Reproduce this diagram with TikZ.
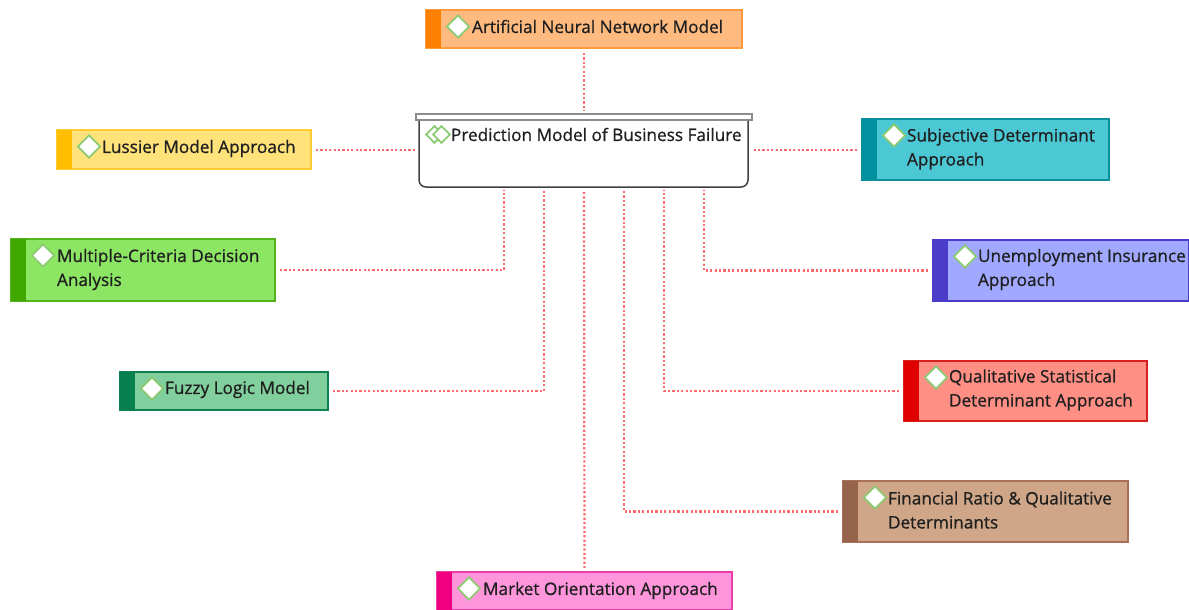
\documentclass[tikz,border=0pt]{standalone}
\usepackage{fontspec}
\setmainfont[FakeBold=0.8]{Open Sans}
\usetikzlibrary{shapes.geometric}
\newcommand{\elembox}[8]{%
  % name, x1, y1, x2, y2, fill, dark, border
  \definecolor{cf#1}{HTML}{#6}\definecolor{cd#1}{HTML}{#7}\definecolor{cb#1}{HTML}{#8}%
  \node[boxbody,draw=cb#1,fill=cf#1,minimum width=#4pt-#2pt,minimum height=#5pt-#3pt] (#1) at ({(#2+#4)/2},{(#3+#5)/2}) {};
  \node[bandbar,fill=cd#1,minimum height=#5pt-#3pt] (#1band) at ({#2+7.5},{(#3+#5)/2}) {};
  \node[gem] (#1gem) at ({#2+32},{#3+16.5}) {};
}
\definecolor{link}{HTML}{FF6A6E}
\definecolor{gemgreen}{HTML}{8CCB72}
\tikzset{
  boxbody/.style={rectangle,line width=1.3pt,inner sep=0pt,outer sep=0pt},
  bandbar/.style={rectangle,minimum width=15pt,inner sep=0pt,outer sep=0pt},
  gem/.style={diamond,draw=gemgreen,line width=1.7pt,fill=white,minimum width=23pt,minimum height=23pt,inner sep=0pt},
  label/.style={anchor=west,inner sep=0pt,outer sep=0pt,font=\fontsize{17.2pt}{24pt}\selectfont,text=black!88,align=left},
  rel/.style={draw=link,line width=2.2pt,dash pattern=on 2.2pt off 2.2pt,shorten <=5pt,shorten >=3pt},
}
\begin{document}
\begin{tikzpicture}[x=1pt,y=-1pt]
\useasboundingbox (0,0) rectangle (1189,610);
\elembox{ann}{426}{10}{742}{48}{FFBA80}{FF7F00}{FF9A3C}
\elembox{lus}{57}{130}{311}{169}{FFE27A}{FFBF00}{FFCB33}
\elembox{mcd}{11}{239}{275}{301}{8CE664}{3FA800}{55B31A}
\elembox{fuz}{120}{372}{328}{410}{80CF9C}{078050}{0F8050}
\elembox{sub}{862}{119}{1109}{180}{4CC8D4}{00919E}{0A8F9C}
\elembox{une}{933}{240}{1189}{301}{A0A8FF}{4A3BC8}{4A3BC8}
\elembox{qua}{904}{361}{1147}{421}{FF8F85}{E00000}{D92020}
\elembox{fin}{843}{481}{1128}{542}{CFA687}{96644B}{A87058}
\elembox{mar}{437}{572}{732}{610}{FF96DC}{F00080}{E93CA6}
\node[label] (annt) at (472,26.5) {Artificial Neural Network Model};
\node[label] (lust) at (102,148.5) {Lussier Model Approach};
\node[label] (mcdt) at (57,269.5) {Multiple-Criteria Decision\\Analysis};
\node[label] (fuzt) at (165,389.5) {Fuzzy Logic Model};
\node[label] (subt) at (907,149) {Subjective Determinant\\Approach};
\node[label] (unet) at (978,269.5) {Unemployment Insurance\\Approach};
\node[label] (quat) at (949,390) {Qualitative Statistical\\Determinant Approach};
\node[label] (fint) at (888,510) {Financial Ratio \& Qualitative\\Determinants};
\node[label] (mart) at (483,590.5) {Market Orientation Approach};
% centre element
\node[rectangle,minimum width=329pt,minimum height=67pt,inner sep=0pt,outer sep=0pt] (pm) at (583.5,153.5) {};
\draw[draw=black!75,line width=1.5pt,rounded corners=7pt] (pm.north west) -- (pm.south west) -- (pm.south east) -- (pm.north east);
\node[rectangle,draw=black!45,line width=1.2pt,fill=white,minimum width=336pt,minimum height=6pt,inner sep=0pt] (pmtop) at (584,117) {};
\node[gem,minimum width=17.5pt,minimum height=17.5pt] (pmgema) at (434.5,134.5) {};
\node[gem,minimum width=17.5pt,minimum height=17.5pt] (pmgemb) at (441.5,134.5) {};
\node[label] (pmt) at (451,134.5) {Prediction Model of Business Failure};
% anchor points on the centre element
\coordinate (p1) at (504,187);
\coordinate (p2) at (544,187);
\coordinate (p3) at (584,187);
\coordinate (p4) at (624,187);
\coordinate (p5) at (664,187);
\coordinate (p6) at (704,187);
\coordinate (pl) at (418,150);
\coordinate (pr) at (749,150);
% connectors
\draw[rel] (ann.south) -- (pmtop.north);
\draw[rel] (lus.east |- pl) -- (pl);
\draw[rel] (sub.west |- pr) -- (pr);
\draw[rel] (mcd.east) -| (p1);
\draw[rel] (fuz.east) -| (p2);
\draw[rel] (p3) -- (mar.north);
\draw[rel] (une.west) -| (p6);
\draw[rel] (qua.west) -| (p5);
\draw[rel] (fin.west) -| (p4);
\end{tikzpicture}
\end{document}
